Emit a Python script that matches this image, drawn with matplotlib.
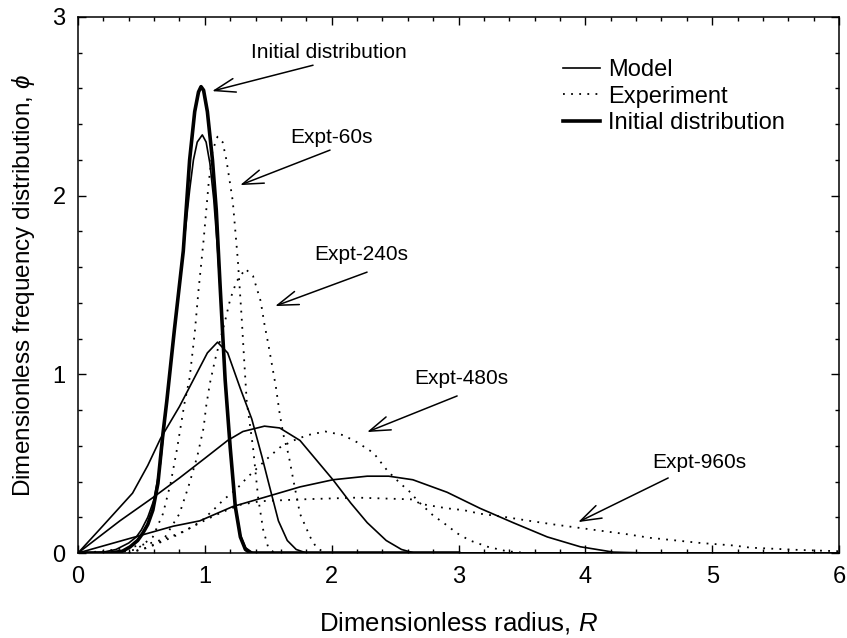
import numpy as np
import matplotlib.pyplot as plt
from matplotlib.ticker import MultipleLocator

plt.rcParams['font.family'] = ['Liberation Sans', 'DejaVu Sans']
plt.rcParams['mathtext.fontset'] = 'custom'
plt.rcParams['mathtext.it'] = 'Liberation Sans:italic'
plt.rcParams['mathtext.rm'] = 'Liberation Sans'

# Initial distribution
R_init = [0, 0.25, 0.35, 0.41, 0.47, 0.51, 0.55, 0.59, 0.63, 0.67, 0.70, 0.76, 0.83,
          0.88, 0.92, 0.95, 0.97, 0.99, 1.02, 1.06, 1.09, 1.12, 1.16, 1.20, 1.24,
          1.28, 1.32, 1.36, 3.0]
phi_init = [0, 0, 0.01, 0.034, 0.07, 0.11, 0.16, 0.24, 0.39, 0.67, 0.85, 1.25, 1.69,
            2.2, 2.47, 2.58, 2.61, 2.59, 2.47, 2.2, 1.92, 1.50, 0.97, 0.59, 0.26,
            0.09, 0.02, 0, 0]

# Model curves
R_m60 = [0, 0.2, 0.3, 0.4, 0.46, 0.5, 0.55, 0.6, 0.65, 0.70, 0.76, 0.83, 0.88, 0.91,
         0.94, 0.98, 1.01, 1.04, 1.07, 1.10, 1.13, 1.16, 1.20, 1.24, 1.28, 1.32, 1.38, 6.0]
phi_m60 = [0, 0.005, 0.02, 0.056, 0.09, 0.13, 0.2, 0.3, 0.5, 0.85, 1.25, 1.70, 2.03, 2.2,
           2.3, 2.34, 2.3, 2.18, 1.98, 1.70, 1.38, 0.97, 0.59, 0.27, 0.10, 0.03, 0, 0]

R_m240 = [0, 0.2, 0.43, 0.55, 0.65, 0.80, 0.91, 1.02, 1.10, 1.18, 1.28, 1.37, 1.45,
          1.50, 1.58, 1.65, 1.72, 1.8, 6.0]
phi_m240 = [0, 0.155, 0.335, 0.49, 0.64, 0.82, 0.97, 1.12, 1.18, 1.12, 0.92, 0.75, 0.54,
            0.40, 0.18, 0.07, 0.02, 0, 0]

R_m480 = [0, 0.33, 0.59, 0.8, 1.0, 1.18, 1.3, 1.47, 1.59, 1.75, 1.88, 2.01, 2.15,
          2.28, 2.43, 2.55, 2.65, 6.0]
phi_m480 = [0, 0.18, 0.31, 0.42, 0.53, 0.63, 0.68, 0.71, 0.70, 0.63, 0.52, 0.41, 0.28,
            0.17, 0.07, 0.02, 0, 0]

R_m960 = [0, 0.25, 0.5, 0.75, 0.96, 1.22, 1.51, 1.75, 2.01, 2.28, 2.45, 2.64, 2.91,
          3.17, 3.43, 3.70, 3.96, 4.22, 4.5, 6.0]
phi_m960 = [0, 0.05, 0.1, 0.15, 0.18, 0.26, 0.32, 0.37, 0.41, 0.43, 0.43, 0.41, 0.34,
            0.25, 0.17, 0.09, 0.035, 0.005, 0, 0]

# Experimental curves
R_e60 = [0.3, 0.46, 0.59, 0.67, 0.73, 0.78, 0.84, 0.88, 0.92, 0.95, 0.99, 1.03, 1.06,
         1.10, 1.14, 1.17, 1.22, 1.26, 1.29, 1.31, 1.33, 1.38, 1.42, 1.46, 1.50, 1.55]
phi_e60 = [0, 0.02, 0.09, 0.22, 0.39, 0.58, 0.84, 0.98, 1.23, 1.47, 1.75, 2.07, 2.25,
           2.33, 2.30, 2.2, 1.97, 1.64, 1.32, 1.08, 0.85, 0.59, 0.31, 0.13, 0.03, 0]

R_e240 = [0.4, 0.54, 0.67, 0.80, 0.87, 0.94, 0.99, 1.01, 1.04, 1.08, 1.12, 1.16, 1.20,
          1.25, 1.32, 1.38, 1.44, 1.47, 1.50, 1.53, 1.56, 1.59, 1.62, 1.66, 1.70, 1.75,
          1.83, 1.88, 1.95]
phi_e240 = [0, 0.03, 0.07, 0.22, 0.37, 0.54, 0.70, 0.82, 0.95, 1.08, 1.19, 1.30, 1.42,
            1.52, 1.59, 1.55, 1.41, 1.28, 1.17, 1.05, 0.93, 0.78, 0.66, 0.55, 0.40, 0.22,
            0.09, 0.03, 0]

R_e480 = [0.4, 0.55, 0.65, 0.78, 0.91, 0.99, 1.08, 1.15, 1.22, 1.28, 1.33, 1.42, 1.51,
          1.59, 1.70, 1.81, 1.95, 2.09, 2.2, 2.33, 2.44, 2.54, 2.62, 2.68, 2.80, 2.88,
          2.99, 3.09, 3.23, 3.38, 3.54]
phi_e480 = [0, 0.03, 0.06, 0.10, 0.15, 0.19, 0.25, 0.30, 0.34, 0.38, 0.42, 0.48, 0.54,
            0.59, 0.63, 0.66, 0.68, 0.66, 0.62, 0.56, 0.46, 0.39, 0.34, 0.29, 0.21, 0.17,
            0.11, 0.07, 0.035, 0.01, 0]

R_e960 = [0, 0.2, 0.4, 0.6, 0.8, 0.91, 1.02, 1.14, 1.28, 1.44, 1.75, 2.2, 2.64, 2.70,
          2.91, 3.04, 3.17, 3.38, 3.56, 3.75, 3.96, 4.17, 4.33, 4.51, 4.65, 4.91, 5.17,
          5.30, 5.69, 6.0]
phi_e960 = [0, 0.01, 0.03, 0.06, 0.11, 0.15, 0.19, 0.23, 0.27, 0.29, 0.30, 0.31, 0.30,
            0.275, 0.25, 0.24, 0.22, 0.20, 0.18, 0.16, 0.14, 0.12, 0.105, 0.085, 0.075,
            0.056, 0.042, 0.03, 0.017, 0.01]

models = [(R_m60, phi_m60), (R_m240, phi_m240), (R_m480, phi_m480), (R_m960, phi_m960)]
expts = [(R_e60, phi_e60), (R_e240, phi_e240), (R_e480, phi_e480), (R_e960, phi_e960)]

fig = plt.figure(figsize=(8.47, 6.38), dpi=100)
ax = fig.add_axes([0.0921, 0.1332, 0.8985, 0.8402])

dots = (0, (1, 3.5))
for i, (r, p) in enumerate(models):
    ax.plot(r, p, color='black', lw=1.2, label='Model' if i == 0 else None)
for i, (r, p) in enumerate(expts):
    ax.plot(r, p, color='black', lw=1.3, linestyle=dots,
            label='Experiment' if i == 0 else None)
ax.plot(R_init, phi_init, color='black', lw=2.6, label='Initial distribution')

# labels with arrows
notes = [
    ('Initial distribution', (1.98, 2.80), (1.853, 2.73), (1.057, 2.585)),
    ('Expt-60s', (1.995, 2.328), (1.987, 2.255), (1.278, 2.059)),
    ('Expt-240s', (2.232, 1.668), (2.279, 1.572), (1.554, 1.382)),
    ('Expt-480s', (3.02, 0.979), (2.989, 0.879), (2.279, 0.677)),
    ('Expt-960s', (4.897, 0.509), (4.653, 0.420), (3.943, 0.173)),
]
for text, tpos, start, tip in notes:
    ax.text(tpos[0], tpos[1], text, fontsize=15, ha='center', va='center')
    ax.annotate('', xy=tip, xytext=start,
                arrowprops=dict(arrowstyle='->, head_length=0.75, head_width=0.25',
                                color='black', lw=1.1, mutation_scale=20,
                                shrinkA=0, shrinkB=0))

ax.set_xlim(0, 6)
ax.set_ylim(0, 3)
ax.xaxis.set_major_locator(MultipleLocator(1))
ax.xaxis.set_minor_locator(MultipleLocator(0.2))
ax.yaxis.set_major_locator(MultipleLocator(1))
ax.yaxis.set_minor_locator(MultipleLocator(0.2))
ax.tick_params(which='both', direction='in', top=True, right=True, labelsize=17)
ax.tick_params(which='major', length=6, width=1, pad=9)
ax.tick_params(which='minor', length=3, width=1)
for s in ax.spines.values():
    s.set_linewidth(1.1)

ax.set_xlabel('Dimensionless radius, $R$', fontsize=18.5, labelpad=16)
ax.set_ylabel('Dimensionless frequency distribution, $\\phi$', fontsize=17.5, labelpad=11)

ax.legend(loc='upper left', bbox_to_anchor=(0.637, 0.922), frameon=False,
          fontsize=17, handlelength=1.57, handletextpad=0.34, labelspacing=0.2,
          borderpad=0, borderaxespad=0)

fig.savefig('out.png', dpi=100)
